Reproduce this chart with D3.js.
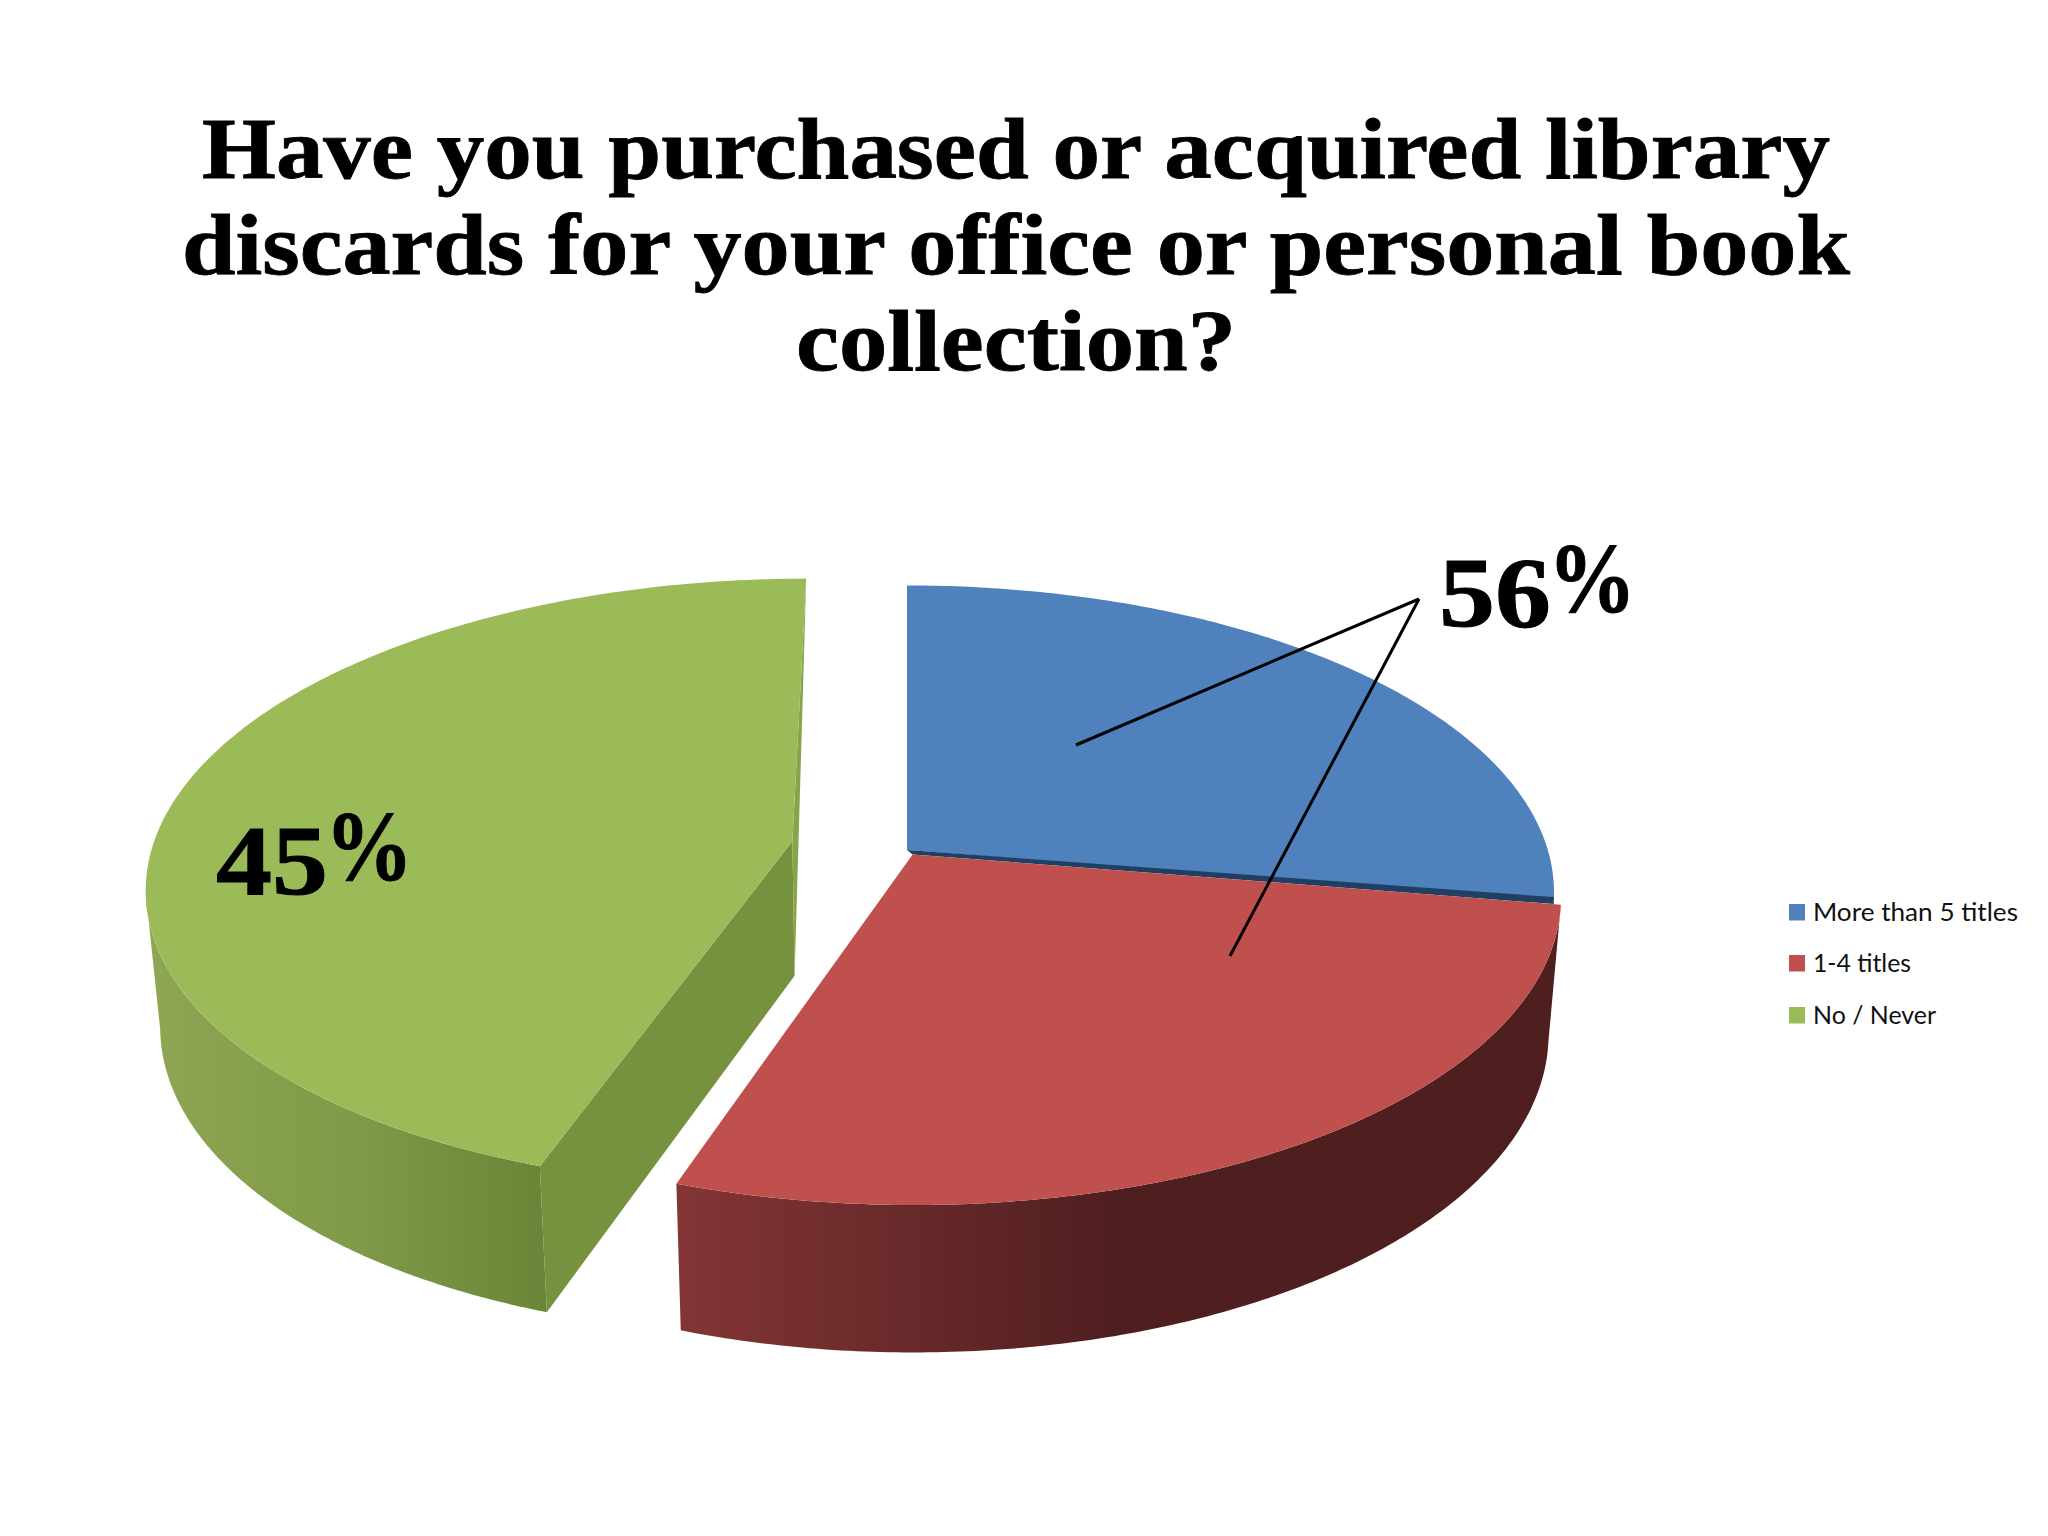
<!DOCTYPE html>
<html>
<head>
<meta charset="utf-8">
<script src="https://cdn.jsdelivr.net/npm/d3@7"></script>
<style>
  body { margin: 0; background: #fff; }
  .title { font-family: "Liberation Serif", serif; font-weight: bold; font-size: 86px; fill: #000; stroke: #000; stroke-width: 0.8px; text-anchor: middle; }
  .pct { font-family: "Liberation Serif", serif; font-weight: bold; font-size: 100px; fill: #000; stroke: #000; stroke-width: 1px; }
  .leg { font-family: Lato, sans-serif; font-size: 25px; fill: #111; }
</style>
</head>
<body>
<div id="chart"></div>
<script>
var titleLines = ["Have you purchased or acquired library", "discards for your office or personal book", "collection?"];
var categories = ["More than 5 titles", "1-4 titles", "No / Never"];
var shares = [27.6, 27.6, 44.8];
var explode = [0, 0.017, 0.182];
var topColors = ["#4f81bd", "#c0504d", "#9bbb59"];
var calloutLabels = ["56%", "45%"];

var width = 2048, height = 1536;
var cx = 907, cy = 850;
var persp = 0.1378, radY = 301, radX = 640.8;
// la face du bas : plus etroite, plus ouverte, decalee vers le bas
var baseScaleX = 0.981, baseScaleY = 1.035, depth = 135;

var svg = d3.select("#chart").append("svg").attr("width", width).attr("height", height);
var defs = svg.append("defs");

var pie = d3.pie().sort(null).value(d => d);
var slices = pie(shares).map(function(d, i) {
  var mid = (d.startAngle + d.endAngle) / 2;
  return { i: i, a0: d.startAngle, a1: d.endAngle,
           ox: Math.sin(mid) * explode[i], oy: -Math.cos(mid) * explode[i] };
});

function project(s, angle, r) {
  // point du disque -> ecran, avec perspective
  var u = s.ox + r * Math.sin(angle), v = s.oy - r * Math.cos(angle);
  var w = 1 - persp * v;
  return [radX * u / w, radY * v / w];
}
function topPt(s, angle, r) {
  var p = project(s, angle, r === undefined ? 1 : r);
  return [cx + p[0], cy + p[1]];
}
function basePt(s, angle, r) {
  var p = project(s, angle, r === undefined ? 1 : r);
  return [cx + p[0] * baseScaleX, cy + p[1] * baseScaleY + depth];
}
function arcAngles(a0, a1) {
  var n = 160;
  return d3.range(n + 1).map(k => a0 + (a1 - a0) * k / n);
}
var line = d3.line();

function gradient(id, x1, x2, stops) {
  var g = defs.append("linearGradient").attr("id", id).attr("gradientUnits", "userSpaceOnUse")
    .attr("x1", x1).attr("x2", x2).attr("y1", 0).attr("y2", 0);
  stops.forEach(s => g.append("stop").attr("offset", s[0]).attr("stop-color", s[1]));
}
function wall(s, a0, a1) {
  var top = arcAngles(a0, a1).map(a => topPt(s, a));
  var base = arcAngles(a1, a0).map(a => basePt(s, a));
  return line(top.concat(base)) + "Z";
}
function face(s) {
  return line([topPt(s, 0, 0)].concat(arcAngles(s.a0, s.a1).map(a => topPt(s, a)))) + "Z";
}

var blue = slices[0], red = slices[1], green = slices[2];

// --- vert : parois puis dessus
var silhouette = d3.least(arcAngles(green.a0, green.a1), a => topPt(green, a)[0]); // bord gauche
gradient("greenWall", basePt(green, silhouette)[0], basePt(green, green.a0)[0],
  [[0, "#8ea552"], [0.5, "#7f9a48"], [1, "#6b8538"]]);
svg.append("path").attr("d", wall(green, green.a0, silhouette)).attr("fill", "url(#greenWall)");
svg.append("path")
  .attr("d", line([topPt(green, green.a0), topPt(green, 0, 0), basePt(green, 0, 0), basePt(green, green.a0)]) + "Z")
  .attr("fill", "#76923f");
svg.append("path")
  .attr("d", line([topPt(green, green.a1), topPt(green, 0, 0), basePt(green, 0, 0)]) + "Z")
  .attr("fill", "#85a548");
svg.append("path").attr("d", face(green)).attr("fill", topColors[2]);

// --- bleu : dessus et arete sombre sous le bord
svg.append("path").attr("d", face(blue)).attr("fill", topColors[0]);
var blueEdge = topPt(blue, blue.a1);
svg.append("path")
  .attr("d", line([topPt(blue, 0, 0), [blueEdge[0], blueEdge[1] - 3], [blueEdge[0], blueEdge[1] + 4], topPt(red, 0, 0)]) + "Z")
  .attr("fill", "#1f3f63");

// --- rouge : paroi puis dessus
var redLeft = basePt(red, red.a1)[0];
gradient("redWall", redLeft, redLeft + 440, [[0, "#833535"], [1, "#4f1e1f"]]);
svg.append("path").attr("d", wall(red, red.a1, red.a0)).attr("fill", "url(#redWall)");
svg.append("path").attr("d", face(red)).attr("fill", topColors[1]);

// --- titre
var titleX = 1016, titleBase = [178, 274, 370], titleWidth = [1628, 1668, 440];
svg.selectAll("text.title").data(titleLines).enter().append("text")
  .attr("class", "title").attr("x", titleX).attr("y", (d, i) => titleBase[i])
  .attr("textLength", (d, i) => titleWidth[i]).attr("lengthAdjust", "spacingAndGlyphs")
  .text(d => d);

// --- renvois et etiquettes
var calloutTip = [1419, 599];
[[1076, 745], [1230, 956]].forEach(function(end) {
  svg.append("path").attr("d", line([calloutTip, end]))
    .attr("stroke", "#000").attr("stroke-width", 3).attr("fill", "none");
});
var labelPos = [[1439, 626], [216, 894]];
calloutLabels.forEach(function(txt, i) {
  var t = svg.append("text").attr("class", "pct").attr("x", labelPos[i][0]).attr("y", labelPos[i][1]);
  t.append("tspan").attr("textLength", 112).attr("lengthAdjust", "spacingAndGlyphs").text(txt.slice(0, -1));
  t.append("tspan").attr("dy", -15).attr("dx", -3).attr("textLength", 88).attr("lengthAdjust", "spacingAndGlyphs").text("%");
});

// --- legende
var legX = 1789, legY = [904, 955, 1007], legW = [205, 98, 123];
var leg = svg.selectAll("g.leg").data(categories).enter().append("g").attr("class", "leg");
leg.append("rect").attr("x", legX).attr("y", (d, i) => legY[i]).attr("width", 16).attr("height", 16.5)
  .attr("fill", (d, i) => topColors[i]);
leg.append("text").attr("class", "leg").attr("x", legX + 24).attr("y", (d, i) => legY[i] + 17)
  .attr("textLength", (d, i) => legW[i]).attr("lengthAdjust", "spacingAndGlyphs")
  .text(d => d);
</script>
</body>
</html>
